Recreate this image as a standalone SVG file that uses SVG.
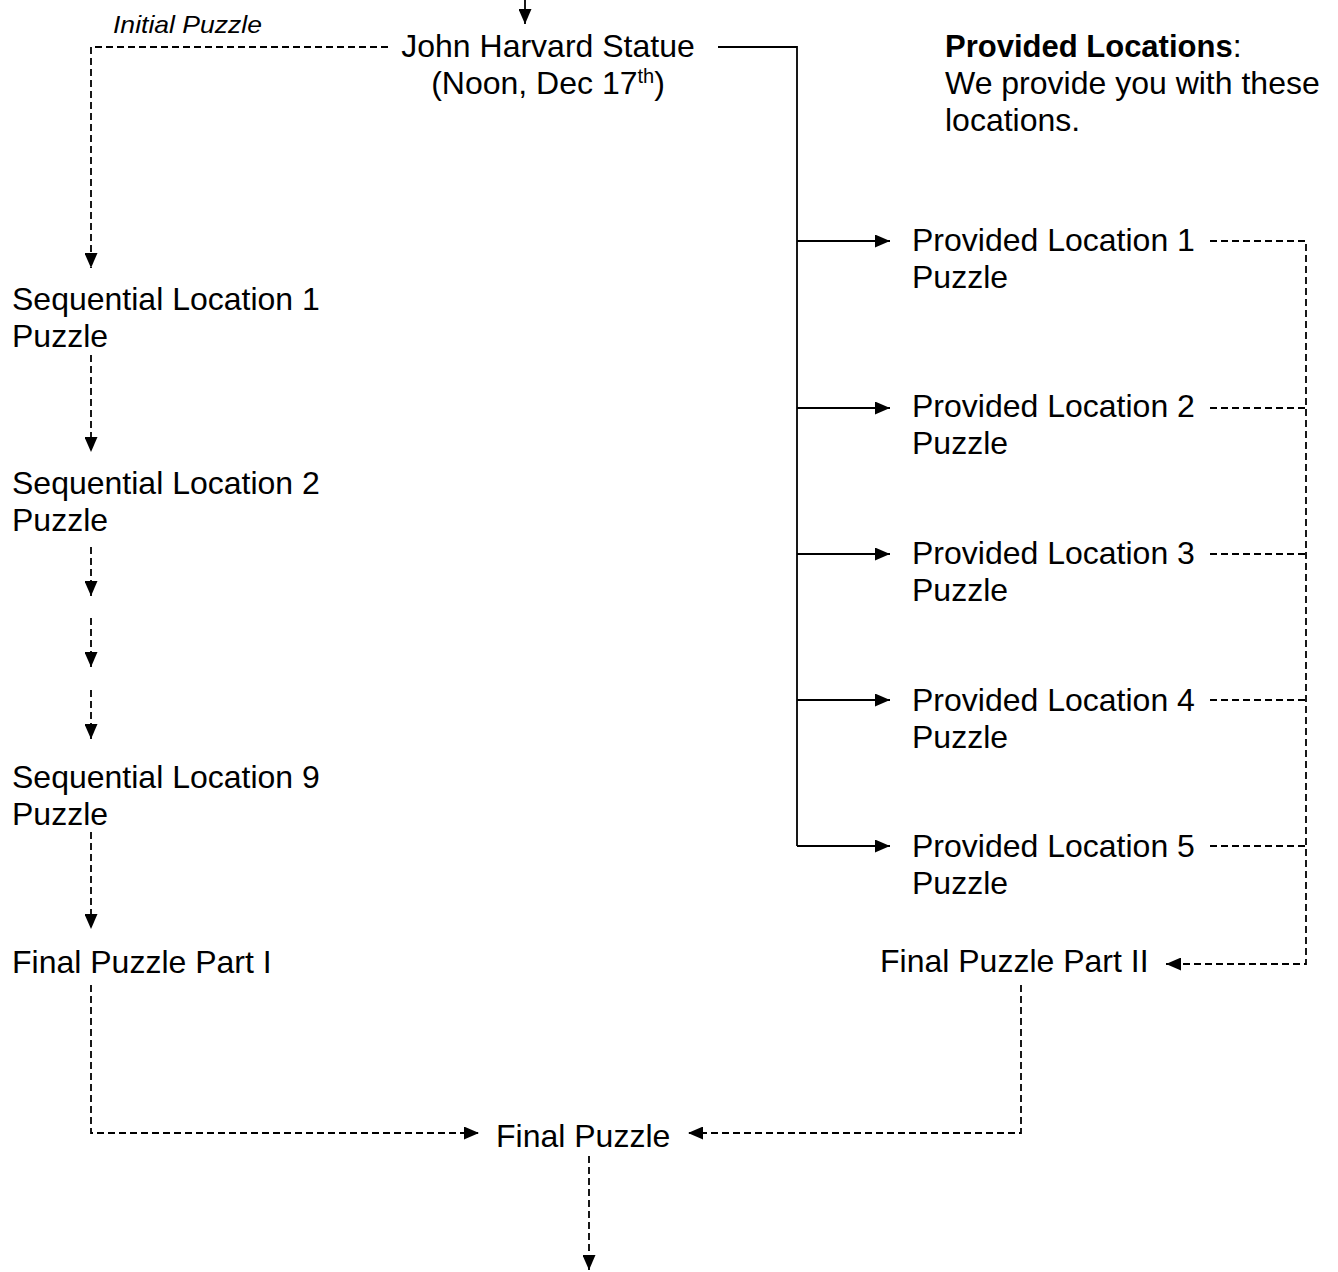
<svg xmlns="http://www.w3.org/2000/svg" width="1338" height="1272" viewBox="0 0 1338 1272">
<style>
text{font-family:"Liberation Sans",Arial,sans-serif;font-size:32px;fill:#000}
.it{font-style:italic;font-size:24px}
.b{font-weight:bold;font-size:31px}
.sup{font-size:20px}
.solid{fill:none;stroke:#000;stroke-width:1.8}
.dash{fill:none;stroke:#000;stroke-width:1.8;stroke-dasharray:7 4}
</style>
<defs>
<marker id="ah" markerUnits="userSpaceOnUse" markerWidth="15" markerHeight="13" refX="15" refY="6.5" orient="auto">
<path d="M0,0 L15,6.5 L0,13 Z" fill="#000"/>
</marker>
</defs>
<rect width="1338" height="1272" fill="#fff"/>
<g id="connectors">
<path class="solid" d="M525,0 V24" marker-end="url(#ah)"/>
<path class="dash" d="M388,47 H91 V268" marker-end="url(#ah)"/>
<path class="dash" d="M91,355 V452" marker-end="url(#ah)"/>
<path class="dash" d="M91,547 V596" marker-end="url(#ah)"/>
<path class="dash" d="M91,618 V667" marker-end="url(#ah)"/>
<path class="dash" d="M91,690 V739" marker-end="url(#ah)"/>
<path class="dash" d="M91,832 V929" marker-end="url(#ah)"/>
<path class="dash" d="M91,985 V1133 H479" marker-end="url(#ah)"/>
<path class="solid" d="M718,47 H797 V846"/>
<path class="solid" d="M797,241 H890" marker-end="url(#ah)"/>
<path class="solid" d="M797,408 H890" marker-end="url(#ah)"/>
<path class="solid" d="M797,554 H890" marker-end="url(#ah)"/>
<path class="solid" d="M797,700 H890" marker-end="url(#ah)"/>
<path class="solid" d="M797,846 H890" marker-end="url(#ah)"/>
<path class="dash" d="M1210,241 H1306 V964 H1166" marker-end="url(#ah)"/>
<path class="dash" d="M1210,408 H1306"/>
<path class="dash" d="M1210,554 H1306"/>
<path class="dash" d="M1210,700 H1306"/>
<path class="dash" d="M1210,846 H1306"/>
<path class="dash" d="M1021,985 V1133 H688" marker-end="url(#ah)"/>
<path class="dash" d="M589,1156 V1270" marker-end="url(#ah)"/>
</g>
<g id="initial-label"><text class="it" x="113" y="33" textLength="149" lengthAdjust="spacingAndGlyphs">Initial Puzzle</text></g>
<g id="john-harvard">
<text x="548" y="57" text-anchor="middle">John Harvard Statue</text>
<text x="548" y="94" text-anchor="middle">(Noon, Dec 17<tspan class="sup" dy="-11">th</tspan><tspan dy="11">)</tspan></text>
</g>
<g id="provided-note">
<text x="945" y="57"><tspan class="b">Provided Locations</tspan>:</text>
<text x="945" y="94">We provide you with these</text>
<text x="945" y="131">locations.</text>
</g>
<g id="seq1"><text x="12" y="310">Sequential Location 1</text><text x="12" y="347">Puzzle</text></g>
<g id="seq2"><text x="12" y="494">Sequential Location 2</text><text x="12" y="531">Puzzle</text></g>
<g id="seq9"><text x="12" y="788">Sequential Location 9</text><text x="12" y="825">Puzzle</text></g>
<g id="final1"><text x="12" y="973">Final Puzzle Part I</text></g>
<g id="prov1"><text x="912" y="251">Provided Location 1</text><text x="912" y="288">Puzzle</text></g>
<g id="prov2"><text x="912" y="417">Provided Location 2</text><text x="912" y="454">Puzzle</text></g>
<g id="prov3"><text x="912" y="564">Provided Location 3</text><text x="912" y="601">Puzzle</text></g>
<g id="prov4"><text x="912" y="711">Provided Location 4</text><text x="912" y="748">Puzzle</text></g>
<g id="prov5"><text x="912" y="857">Provided Location 5</text><text x="912" y="894">Puzzle</text></g>
<g id="final2"><text x="880" y="972">Final Puzzle Part II</text></g>
<g id="final"><text x="496" y="1147">Final Puzzle</text></g>
</svg>
